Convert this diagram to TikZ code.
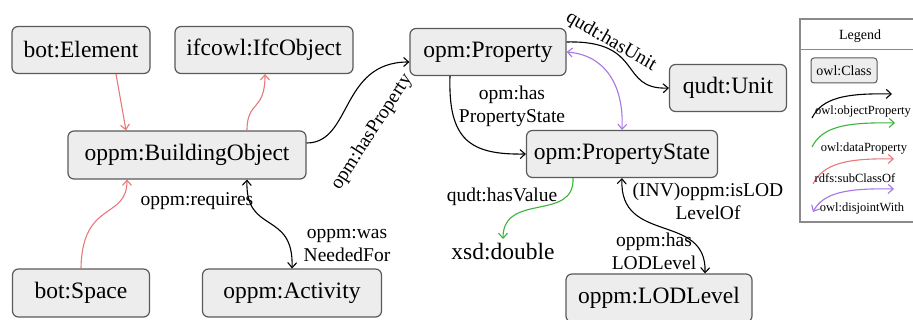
\documentclass[tikz,border=0pt]{standalone}
\usepackage{fontspec}
\setmainfont{Liberation Serif}
\usetikzlibrary{arrows.meta}
\definecolor{boxfill}{HTML}{EDEDED}
\definecolor{boxline}{HTML}{5A5A5A}
\definecolor{subcls}{HTML}{E8787A}
\definecolor{dataprop}{HTML}{3CB43C}
\definecolor{disjoint}{HTML}{A874E6}
\definecolor{legline}{HTML}{8A8A8A}
\newcommand\clsfont{\fontsize{23.5}{27}\selectfont}
\newcommand\edgefont{\fontsize{19.5}{23}\selectfont}
\newcommand\legfont{\fontsize{12.5}{15}\selectfont}
\newcommand\legtitlefont{\fontsize{14}{16}\selectfont}
\begin{document}
\begin{tikzpicture}[x=1pt,y=-1pt,
  >={Straight Barb[length=5pt,width=9pt]},
  cls/.style={draw=boxline, fill=boxfill, rounded corners=6pt, line width=1.2pt,
    font=\clsfont, inner sep=0pt, minimum height=47pt},
  lgcls/.style={draw=boxline, fill=boxfill, rounded corners=3pt, line width=1pt,
    font=\legtitlefont, inner sep=0pt, minimum height=25pt, minimum width=66pt},
  lbl/.style={font=\edgefont, inner sep=0pt, align=center},
  lglbl/.style={font=\legfont, inner sep=0pt},
  objp/.style={draw=black, line width=1.1pt, ->},
  objp2/.style={draw=black, line width=1.1pt, <->},
  subc/.style={draw=subcls, line width=1.1pt, ->},
  datap/.style={draw=dataprop, line width=1.1pt, ->},
  disj/.style={draw=disjoint, line width=1.1pt, <->}]

\path[use as bounding box, fill=white] (0,0) rectangle (913,320);

% classes
\node[cls, minimum width=138pt] (elem)   at (81,50)   {bot:Element};
\node[cls, minimum width=178pt] (ifc)    at (264,50)  {ifcowl:IfcObject};
\node[cls, minimum width=156pt] (prop)   at (488,52)  {opm:Property};
\node[cls, minimum width=117pt] (unit)   at (728,88)  {qudt:Unit};
\node[cls, minimum width=238pt, minimum height=48pt] (bldg) at (187,155) {oppm:BuildingObject};
\node[cls, minimum width=191pt] (pstate) at (622,154) {opm:PropertyState};
\node[cls, minimum width=137pt, minimum height=48pt] (space) at (81,293) {bot:Space};
\node[cls, minimum width=179pt, minimum height=48pt] (act)   at (292,293) {oppm:Activity};
\node[cls, minimum width=186pt, minimum height=48pt] (lod)   at (659,298) {oppm:LODLevel};
\node[font=\clsfont, inner sep=4pt, anchor=north] (xsd) at (503,239) {xsd:double};

% subclass relations
\draw[subc] ([xshift=35pt]elem.south) -- ([xshift=-61pt]bldg.north);
\draw[subc] ([xshift=60pt]bldg.north) .. controls (247,100) and (265,112) .. ([xshift=1pt]ifc.south);
\draw[subc] (space.north) .. controls (82,200) and (127,220) .. ([xshift=-60pt]bldg.south);

% object properties
\draw[objp2] ([xshift=60pt]bldg.south) .. controls (245,235) and (294,210) .. (act.north);
\draw[objp] ([yshift=12pt]bldg.east) .. controls (352,143) and (340,62) .. ([yshift=-10pt]prop.west);
\draw[objp] ([xshift=-38pt]prop.south) .. controls (448,140) and (470,155) .. (pstate.west);
\draw[objp] ([yshift=10pt]prop.east) .. controls (645,40) and (618,90) .. (unit.west);
\draw[disj] (prop.east) .. controls (605,55) and (624,85) .. (pstate.north);
\draw[datap] ([xshift=-49pt]pstate.south) .. controls (575,222) and (503,192) .. (xsd.north);
\draw[objp2] (pstate.south) .. controls (619,245) and (707,212) .. ([xshift=46pt]lod.north);

% edge labels
\node[lbl] (l-req)   at (197,201) {oppm:requires};
\node[lbl] (l-need)  at (347,246) {oppm:was\\NeededFor};
\node[lbl, rotate=57] (l-hasprop) at (372,132) {opm:hasProperty};
\node[lbl] (l-pstate) at (512,106) {opm:has\\PropertyState};
\node[lbl, rotate=-30] (l-unit) at (611,42) {qudt:hasUnit};
\node[lbl] (l-value) at (502,197) {qudt:hasValue};
\node[lbl] (l-inv)   at (708,201) {(INV)oppm:isLOD\\LevelOf};
\node[lbl] (l-lod)   at (654,251) {oppm:has\\LODLevel};

% legend
\draw[legline, line width=1.5pt, fill=white] (800,19) rectangle (920,222);
\draw[legline, line width=1pt] (800,50) -- (920,50);
\node[font=\legtitlefont, inner sep=0pt] (lg-title) at (860,36) {Legend};
\node[lgcls] (lg-cls) at (844,70.5) {owl:Class};

\coordinate (lg-o1) at (812,118); \coordinate (lg-o2) at (892,94);
\draw[objp] (lg-o1) .. controls (822,98) and (845,93) .. (lg-o2);
\node[lglbl] (lg-olbl) at (863,112) {owl:objectProperty};

\coordinate (lg-d1) at (812,147); \coordinate (lg-d2) at (895,123);
\draw[datap] (lg-d1) .. controls (822,127) and (845,122) .. (lg-d2);
\node[lglbl] (lg-dlbl) at (864,149) {owl:dataProperty};

\coordinate (lg-s1) at (813,184); \coordinate (lg-s2) at (894,159);
\draw[subc] (lg-s1) .. controls (823,164) and (846,158) .. (lg-s2);
\node[lglbl] (lg-slbl) at (855,178) {rdfs:subClassOf};

\coordinate (lg-j1) at (813,212); \coordinate (lg-j2) at (894,189);
\draw[disj] (lg-j1) .. controls (823,193) and (846,188) .. (lg-j2);
\node[lglbl] (lg-jlbl) at (862,208) {owl:disjointWith};
\end{tikzpicture}
\end{document}
